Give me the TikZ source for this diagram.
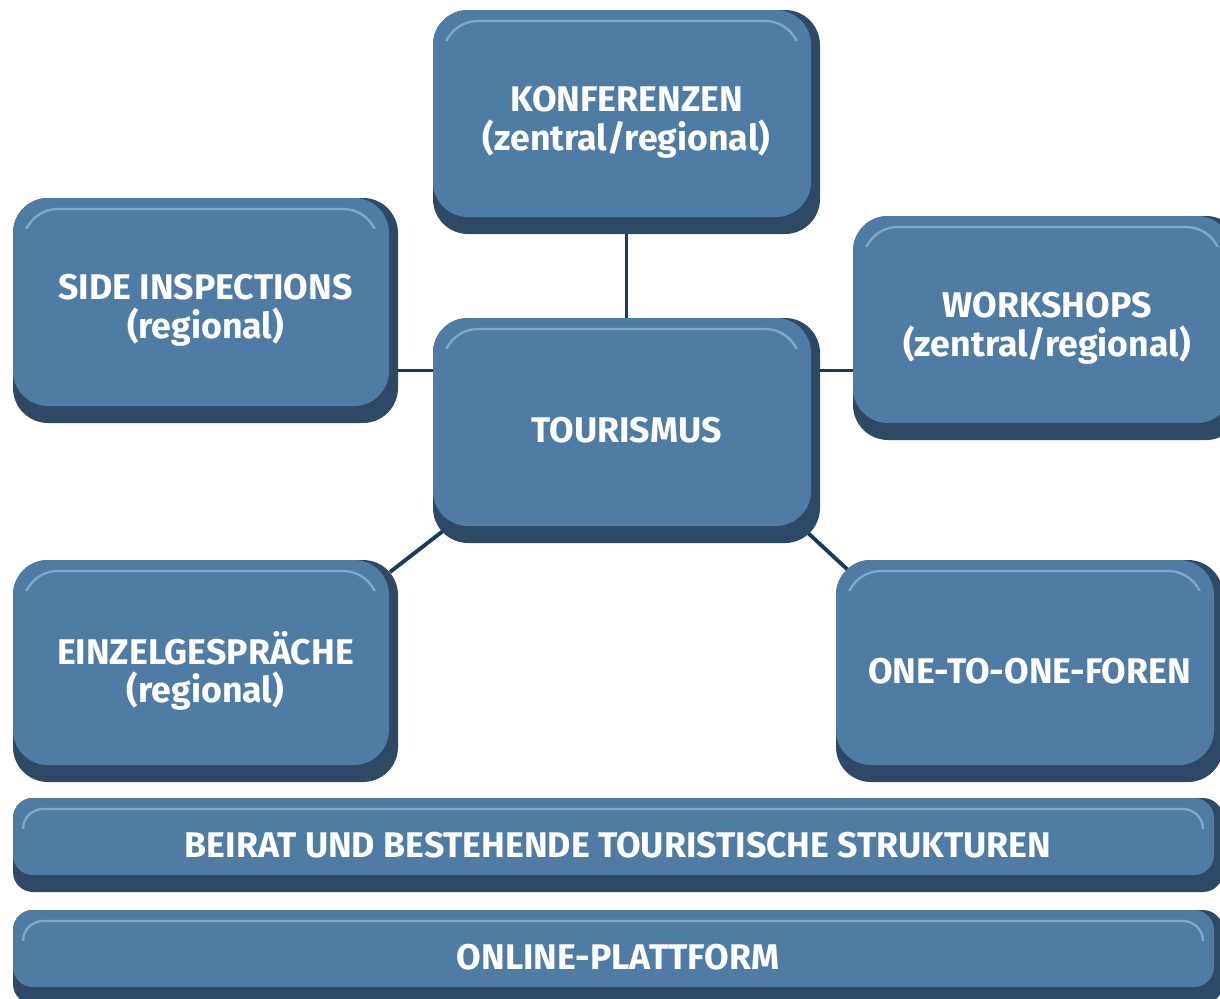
\documentclass[tikz,border=0pt]{standalone}
\usepackage{fontspec}
\setmainfont{Fira Sans}
\usetikzlibrary{calc,backgrounds}
\definecolor{face}{HTML}{4F7CA5}
\definecolor{edge}{HTML}{2E4966}
\definecolor{hl}{HTML}{7FA8D0}
\definecolor{link}{HTML}{1B3A5E}
\tikzset{
  bev/.style={rounded corners=#1, fill=edge, draw=none, inner sep=0pt, outer sep=0pt,
    text=white, font=\bfseries\fontsize{20.3}{22}\selectfont, align=center,
    path picture={
      \fill[face, rounded corners=#1] (path picture bounding box.north west) rectangle ($(path picture bounding box.south east)+(-9,-17)$);
      \begin{scope}
        \clip[sharp corners] (path picture bounding box.north west) rectangle ($(path picture bounding box.north east)+(0,30)$);
        \draw[hl, line width=1.3pt, rounded corners=#1] ($(path picture bounding box.north west)+(10,11)$) rectangle ($(path picture bounding box.south east)+(-20,-28)$);
      \end{scope}
    }},
  conn/.style={draw=link, line width=2.2pt}
}
\newcommand\bevbox[7]{%
  \node[bev=#7, minimum width={(#4-#2)*0.02cm}, minimum height={(#5-#3)*0.02cm}, anchor=north west] (#1) at (#2,#3) {#6};}
\begin{document}
\begin{tikzpicture}[x=0.02cm, y=-0.02cm]
\useasboundingbox (0,0) rectangle (1220,998);
\bevbox{k}{433}{10}{820}{234}{KONFERENZEN\\(zentral/regional)}{0.7cm}
\bevbox{s}{13}{198}{398}{423}{SIDE INSPECTIONS\\(regional)}{0.7cm}
\bevbox{w}{853}{216}{1241}{440}{WORKSHOPS\\(zentral/regional)}{0.7cm}
\bevbox{t}{433}{318}{820}{543}{TOURISMUS}{0.7cm}
\bevbox{e}{13}{560}{398}{782}{EINZELGESPRÄCHE\\(regional)}{0.7cm}
\bevbox{o}{836}{560}{1223}{782}{ONE-TO-ONE-FOREN}{0.7cm}
\bevbox{b}{13}{798}{1223}{892}{BEIRAT UND BESTEHENDE TOURISTISCHE STRUKTUREN}{0.4cm}
\bevbox{p}{13}{910}{1223}{1004}{ONLINE-PLATTFORM}{0.4cm}
\begin{scope}[on background layer]
\draw[conn] (k.south) -- (t.north);
\draw[conn] ([yshift=1.2cm]t.west) -- ([yshift=1.2cm]t.west -| s.east);
\draw[conn] ([yshift=1.2cm]t.east) -- ([yshift=1.2cm]t.east -| w.west);
\draw[conn] ([shift={(10,-12)}]t.south west) -- ([shift={(-8,12)}]e.north east);
\draw[conn] ([shift={(-12,-10)}]t.south east) -- ([shift={(12,10)}]o.north west);
\end{scope}
\end{tikzpicture}
\end{document}
